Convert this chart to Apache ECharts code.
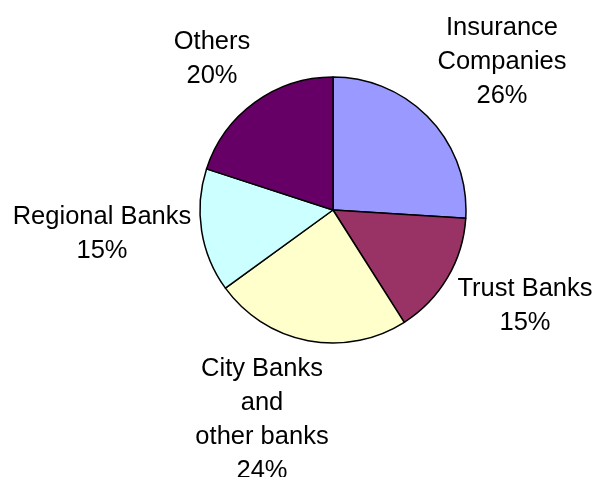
<!DOCTYPE html>
<html>
<head>
<meta charset="utf-8">
<script src="https://cdn.jsdelivr.net/npm/echarts@6/dist/echarts.min.js"></script>
<style>
html,body{margin:0;padding:0;background:#fff;}
#chart{width:595px;height:477px;}
</style>
</head>
<body>
<div id="chart"></div>
<script>
const categories = ['Insurance\nCompanies', 'Trust Banks', 'City Banks\nand\nother banks', 'Regional Banks', 'Others'];
const values = [26, 15, 24, 15, 20];
const colors = ['#9999FF', '#993366', '#FFFFCC', '#CCFFFF', '#660066'];
// label block centres (layout only)
const labelPos = [[502, 62], [525, 306], [262, 420], [102, 234], [212, 59]];

const chart = echarts.init(document.getElementById('chart'), null, {renderer: 'canvas'});
chart.setOption({
  backgroundColor: '#ffffff',
  animation: false,
  series: [{
    type: 'pie',
    center: [333, 210],
    radius: 133,
    startAngle: 90,
    clockwise: true,
    avoidLabelOverlap: false,
    data: categories.map((c, i) => ({name: c, value: values[i], itemStyle: {color: colors[i]}})),
    itemStyle: {borderColor: '#000', borderWidth: 1.5},
    emphasis: {disabled: true},
    label: {
      show: true,
      position: 'outside',
      formatter: '{b}\n{c}%',
      fontFamily: 'Liberation Sans, Arial, sans-serif',
      fontSize: 25.5,
      lineHeight: 34,
      color: '#000',
      align: 'center'
    },
    labelLine: {show: false},
    labelLayout: function (params) {
      const p = labelPos[params.dataIndex];
      return {x: p[0], y: p[1], align: 'center', verticalAlign: 'middle'};
    }
  }]
});
</script>
</body>
</html>
